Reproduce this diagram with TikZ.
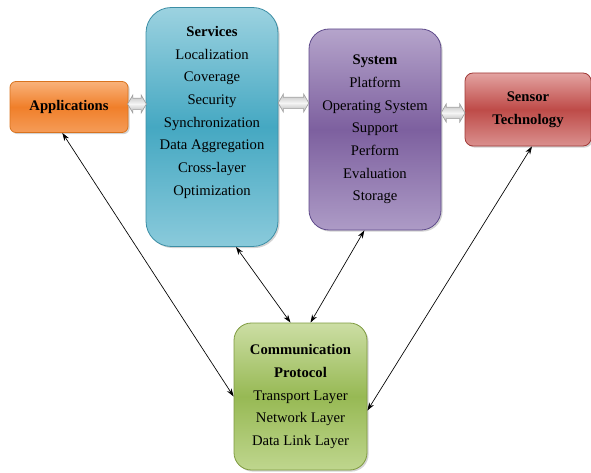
\documentclass[tikz,border=0pt]{standalone}
\usepackage{fontspec}
\setmainfont{Liberation Serif}
\usetikzlibrary{shapes.arrows,shadows,arrows.meta}

% fills and borders of the layer boxes
\definecolor{appstop}{HTML}{F9B27A}
\definecolor{appsmid}{HTML}{F07F2A}
\definecolor{appsbot}{HTML}{F59C58}
\definecolor{appsborder}{HTML}{D9731E}
\definecolor{servtop}{HTML}{9CD2E0}
\definecolor{servmid}{HTML}{45A8C2}
\definecolor{servbot}{HTML}{8ACADB}
\definecolor{servborder}{HTML}{3C8EA5}
\definecolor{systop}{HTML}{B5A4CB}
\definecolor{sysmid}{HTML}{7D609F}
\definecolor{sysbot}{HTML}{AD9BC6}
\definecolor{sysborder}{HTML}{5F4B8B}
\definecolor{senstop}{HTML}{E3A3A1}
\definecolor{sensmid}{HTML}{BE4B48}
\definecolor{sensbot}{HTML}{DA908E}
\definecolor{sensborder}{HTML}{A03A37}
\definecolor{commtop}{HTML}{CCDEA4}
\definecolor{commmid}{HTML}{97B954}
\definecolor{commbot}{HTML}{BFD68E}
\definecolor{commborder}{HTML}{7E9A3F}

\tikzset{
  block/.style={draw, line width=0.6pt, align=center, inner sep=2pt,
    font=\fontsize{11}{17}\selectfont,
    drop shadow={shadow xshift=1.2pt, shadow yshift=-1.2pt, opacity=0.35}},
  apps box/.style={block, draw=appsborder, rounded corners=4.5pt,
    top color=appstop, bottom color=appsbot, middle color=appsmid},
  serv box/.style={block, draw=servborder, rounded corners=19pt,
    top color=servtop, bottom color=servbot, middle color=servmid},
  sys box/.style={block, draw=sysborder, rounded corners=15pt,
    top color=systop, bottom color=sysbot, middle color=sysmid},
  sens box/.style={block, draw=sensborder, rounded corners=6pt,
    top color=senstop, bottom color=sensbot, middle color=sensmid},
  comm box/.style={block, draw=commborder, rounded corners=13pt,
    top color=commtop, bottom color=commbot, middle color=commmid},
  link arrow/.style={draw=gray!75, double arrow, inner xsep=0pt, inner ysep=4pt,
    double arrow head extend=2.5pt, double arrow tip angle=120, line width=0.5pt,
    top color=gray!50, bottom color=gray!60, middle color=gray!8},
  link/.style={<->, >={Stealth[length=6pt,width=4pt]}, line width=0.5pt}
}

\begin{document}
\begin{tikzpicture}[x=0.75pt, y=0.75pt]
\useasboundingbox (0,0) rectangle (591,472);

% the five layers
\node[apps box, minimum width=88.5pt, minimum height=38.25pt] (apps) at (69,365) {\textbf{Applications}};
\node[serv box, minimum width=99pt, minimum height=179.25pt] (serv) at (212,345) {};
\node[anchor=north] (servtext) at ([yshift=-11pt]serv.north) [font=\fontsize{11}{17}\selectfont, align=center]
  {\textbf{Services}\\Localization\\Coverage\\Security\\Synchronization\\Data Aggregation\\Cross-layer\\Optimization};
\node[sys box, minimum width=99pt, minimum height=150.75pt] (sys) at (375,342.5)
  {\textbf{System}\\Platform\\Operating System\\Support\\Perform\\Evaluation\\Storage};
\node[sens box, minimum width=94.5pt, minimum height=54.75pt] (sens) at (528,362.5)
  {\textbf{Sensor}\\\textbf{Technology}};
\node[comm box, minimum width=99.75pt, minimum height=110.25pt] (comm) at (300.5,75.5)
  {\textbf{Communication}\\\textbf{Protocol}\\Transport Layer\\Network Layer\\Data Link Layer};

% block arrows between the upper boxes
\node[link arrow, minimum height=14pt] (a1) at (137,368) {};
\node[link arrow, minimum height=23pt] (a2) at (293.5,369) {};
\node[link arrow, minimum height=18pt] (a3) at (453,359) {};

% links down to the protocol box
\draw[link] ([xshift=-5pt]apps.south) -- (comm.west);
\draw[link] ([xshift=18pt]serv.south) -- ([xshift=-7.5pt]comm.north);
\draw[link] ([xshift=-8pt]sys.south) -- ([xshift=7.5pt]comm.north);
\draw[link] ([xshift=3pt]sens.south) -- ([yshift=-10.5pt]comm.east);
\end{tikzpicture}
\end{document}
